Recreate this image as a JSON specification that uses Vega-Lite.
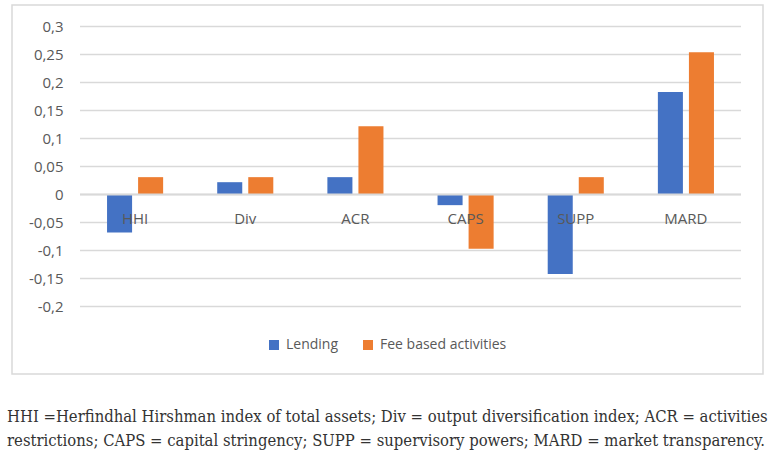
{
  "$schema": "https://vega.github.io/schema/vega-lite/v6.json",
  "width": 751,
  "height": 369,
  "autosize": {"type": "none"},
  "padding": {"left": 12, "top": 5, "right": 13, "bottom": 88},
  "background": "white",
  "config": {
    "view": {"stroke": "#d9d9d9", "strokeWidth": 1.5},
    "font": "Open Sans",
    "axisY": {
      "values": [-0.2, -0.15, -0.1, -0.05, 0, 0.05, 0.1, 0.15, 0.2, 0.25, 0.3],
      "labelExpr": "datum.value < -0.201 || datum.value > 0.301 ? '' : replace(toString(datum.value), '.', ',')",
      "labelOverlap": false,
      "grid": false,
      "domain": false,
      "ticks": false,
      "labelPadding": 0,
      "offset": -51,
      "labelFont": "Open Sans",
      "labelFontSize": 15,
      "labelColor": "#595959",
      "title": null
    }
  },
  "title": {
    "text": [
      "HHI =Herfindhal Hirshman index of total assets; Div = output diversification index; ACR = activities",
      "restrictions; CAPS = capital stringency; SUPP = supervisory powers; MARD = market transparency."
    ],
    "orient": "bottom",
    "anchor": "start",
    "frame": "group",
    "font": "DejaVu Serif Condensed, Liberation Serif",
    "fontSize": 16.5,
    "fontWeight": "normal",
    "color": "#333333",
    "lineHeight": 24,
    "baseline": "top",
    "offset": 35,
    "dx": -5
  },
  "datasets": {
    "bars": [
      {"category": "HHI", "series": "Lending", "value": -0.068},
      {"category": "HHI", "series": "Fee based activities", "value": 0.031},
      {"category": "Div", "series": "Lending", "value": 0.022},
      {"category": "Div", "series": "Fee based activities", "value": 0.031},
      {"category": "ACR", "series": "Lending", "value": 0.031},
      {"category": "ACR", "series": "Fee based activities", "value": 0.122},
      {"category": "CAPS", "series": "Lending", "value": -0.019},
      {"category": "CAPS", "series": "Fee based activities", "value": -0.097},
      {"category": "SUPP", "series": "Lending", "value": -0.142},
      {"category": "SUPP", "series": "Fee based activities", "value": 0.031},
      {"category": "MARD", "series": "Lending", "value": 0.183},
      {"category": "MARD", "series": "Fee based activities", "value": 0.254}
    ],
    "grid": [
      {"value": -0.2}, {"value": -0.15}, {"value": -0.1}, {"value": -0.05}, {"value": 0},
      {"value": 0.05}, {"value": 0.1}, {"value": 0.15}, {"value": 0.2}, {"value": 0.25}, {"value": 0.3}
    ]
  },
  "resolve": {"scale": {"x": "independent"}},
  "layer": [
    {
      "data": {"name": "grid"},
      "mark": {"type": "rule", "color": "#d9d9d9", "strokeWidth": 1.5},
      "encoding": {
        "y": {
          "field": "value",
          "type": "quantitative",
          "scale": {"domain": [-0.3205, 0.3384], "nice": false, "zero": false}
        },
        "x": {
          "datum": 0,
          "type": "quantitative",
          "scale": {"domain": [0, 1], "range": [68, 729]},
          "axis": null
        },
        "x2": {"datum": 1}
      }
    },
    {
      "data": {"name": "bars"},
      "layer": [
        {
          "mark": {"type": "bar"},
          "encoding": {
            "x": {
              "field": "category",
              "type": "nominal",
              "scale": {
                "domain": ["HHI", "Div", "ACR", "CAPS", "SUPP", "MARD"],
                "paddingInner": 0,
                "paddingOuter": 0.4085,
                "align": 0.7556
              },
              "axis": null
            },
            "xOffset": {
              "field": "series",
              "type": "nominal",
              "scale": {
                "domain": ["Lending", "Fee based activities"],
                "paddingInner": 0.1935,
                "paddingOuter": 0.871
              }
            },
            "y": {"field": "value", "type": "quantitative"},
            "color": {
              "field": "series",
              "type": "nominal",
              "scale": {
                "domain": ["Lending", "Fee based activities"],
                "range": ["#4472C4", "#ED7D31"]
              },
              "legend": {
                "title": null,
                "orient": "none",
                "direction": "horizontal",
                "legendX": 255,
                "legendY": 333,
                "symbolType": "square",
                "symbolSize": 100,
                "symbolStrokeWidth": 0,
                "labelFont": "Open Sans",
                "labelFontSize": 14,
                "labelColor": "#595959",
                "labelOffset": 5,
                "columnPadding": 22
              }
            }
          }
        },
        {
          "transform": [
            {"aggregate": [{"op": "count", "as": "n"}], "groupby": ["category"]}
          ],
          "mark": {
            "type": "text",
            "font": "Open Sans",
            "fontSize": 15,
            "color": "#595959",
            "baseline": "middle",
            "dy": 24
          },
          "encoding": {
            "x": {"field": "category", "type": "nominal"},
            "y": {"datum": 0},
            "text": {"field": "category"}
          }
        }
      ]
    },
    {
      "data": {"name": "grid"},
      "transform": [{"filter": "datum.value == 0"}],
      "mark": {"type": "rule", "color": "#d9d9d9", "strokeWidth": 2},
      "encoding": {
        "y": {"field": "value", "type": "quantitative"},
        "x": {
          "datum": 0,
          "type": "quantitative",
          "scale": {"domain": [0, 1], "range": [68, 729]},
          "axis": null
        },
        "x2": {"datum": 1}
      }
    }
  ]
}
